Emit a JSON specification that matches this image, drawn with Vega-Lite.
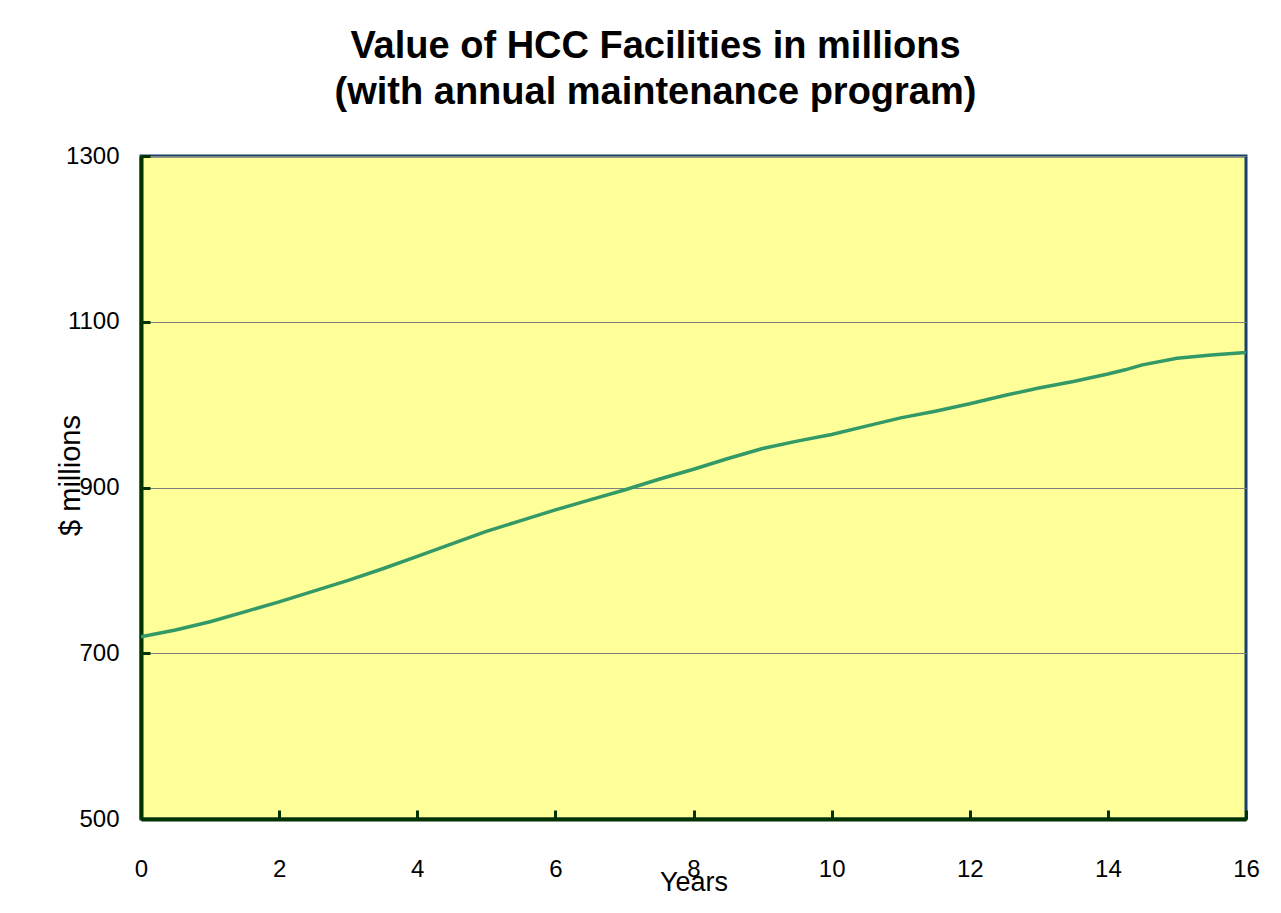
{
  "$schema": "https://vega.github.io/schema/vega-lite/v6.json",
  "autosize": "none",
  "width": 1105,
  "height": 663,
  "padding": {"left": 141, "top": 156, "right": 35, "bottom": 94},
  "background": "white",
  "title": {
    "text": ["Value of HCC Facilities in millions", "(with annual maintenance program)"],
    "font": "Liberation Sans",
    "fontSize": 38,
    "fontWeight": "bold",
    "color": "#000000",
    "lineHeight": 46,
    "anchor": "middle",
    "dx": -38,
    "offset": 32
  },
  "config": {
    "view": {"fill": "#FFFF99", "stroke": "#17406D", "strokeWidth": 3},
    "axis": {
      "labelFont": "Liberation Sans",
      "titleFont": "Liberation Sans",
      "labelFontSize": 24,
      "titleFontSize": 27,
      "labelColor": "#000000",
      "titleColor": "#000000",
      "titleFontWeight": "normal",
      "domainColor": "#003300",
      "domainWidth": 4,
      "tickColor": "#003300",
      "tickWidth": 3,
      "tickSize": -9,
      "gridColor": "#808080",
      "gridWidth": 1
    }
  },
  "data": {
    "values": [
      {"year": 0, "value": 720},
      {"year": 0.5, "value": 728},
      {"year": 1, "value": 738},
      {"year": 1.5, "value": 750},
      {"year": 2, "value": 762},
      {"year": 2.5, "value": 775},
      {"year": 3, "value": 788},
      {"year": 3.5, "value": 802},
      {"year": 4, "value": 817},
      {"year": 4.5, "value": 832},
      {"year": 5, "value": 847},
      {"year": 5.5, "value": 860},
      {"year": 6, "value": 873},
      {"year": 6.5, "value": 885},
      {"year": 7, "value": 897},
      {"year": 7.5, "value": 910},
      {"year": 8, "value": 922},
      {"year": 8.5, "value": 935},
      {"year": 9, "value": 947},
      {"year": 9.5, "value": 956},
      {"year": 10, "value": 964},
      {"year": 10.5, "value": 974},
      {"year": 11, "value": 984},
      {"year": 11.5, "value": 992},
      {"year": 12, "value": 1001},
      {"year": 12.5, "value": 1011},
      {"year": 13, "value": 1020},
      {"year": 13.5, "value": 1028},
      {"year": 14, "value": 1037},
      {"year": 14.25, "value": 1042},
      {"year": 14.5, "value": 1048},
      {"year": 15, "value": 1056},
      {"year": 15.5, "value": 1060},
      {"year": 16, "value": 1063}
    ]
  },
  "mark": {"type": "line", "color": "#339966", "strokeWidth": 3.5},
  "encoding": {
    "x": {
      "field": "year",
      "type": "quantitative",
      "scale": {"domain": [0, 16], "nice": false, "zero": false},
      "axis": {
        "title": "Years",
        "values": [0, 2, 4, 6, 8, 10, 12, 14, 16],
        "grid": false,
        "labelPadding": 47,
        "labelFlush": false,
        "labelOverlap": false,
        "titlePadding": 0,
        "titleBaseline": "alphabetic",
        "titleY": 71
      }
    },
    "y": {
      "field": "value",
      "type": "quantitative",
      "scale": {"domain": [500, 1300], "nice": false, "zero": false},
      "axis": {
        "title": "$ millions",
        "format": "d",
        "values": [500, 700, 900, 1100, 1300],
        "grid": true,
        "labelPadding": 31,
        "labelFlush": false,
        "labelOverlap": false,
        "titleBaseline": "alphabetic",
        "titleFontSize": 29,
        "titleX": -62,
        "titleY": 319
      }
    }
  }
}
